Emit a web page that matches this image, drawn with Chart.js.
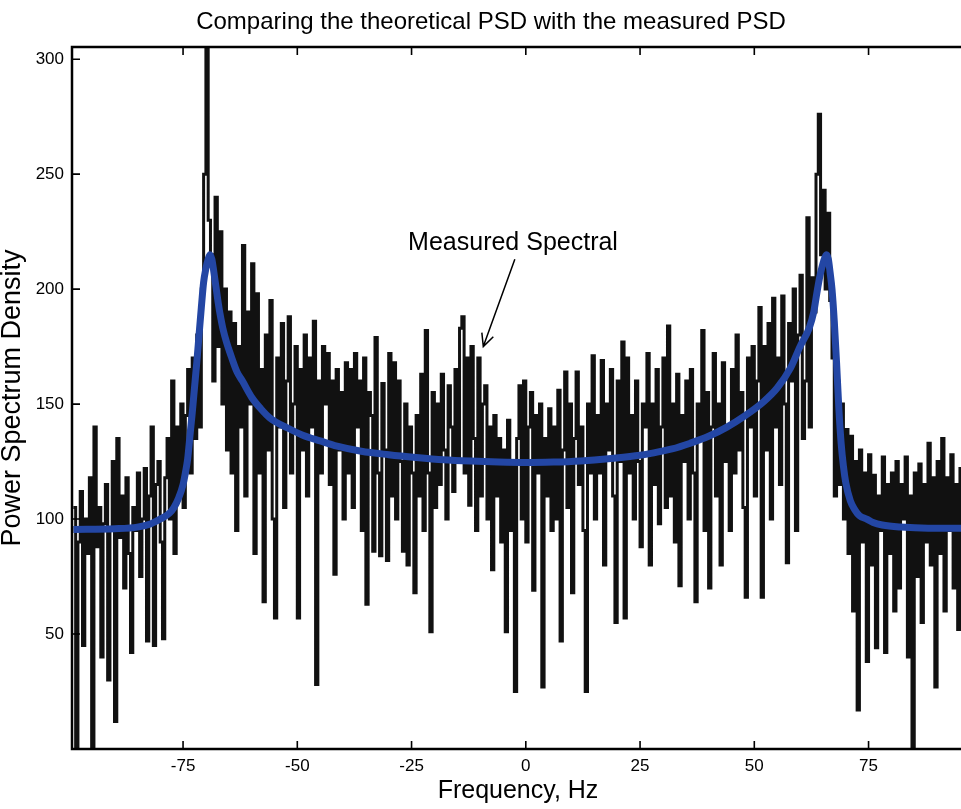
<!DOCTYPE html>
<html><head><meta charset="utf-8">
<script src="https://cdn.jsdelivr.net/npm/chart.js@4.4.1/dist/chart.umd.min.js"></script>
<style>
html,body{margin:0;padding:0;background:#fff;overflow:hidden;width:961px;height:809px;}
#wrap{position:absolute;left:-20px;top:0;width:1022px;height:809px;}
</style></head><body>
<div id="wrap"><canvas id="c"></canvas></div>
<script>
const chartTitle = 'Comparing the theoretical PSD with the measured PSD';
const xTitle = 'Frequency, Hz';
const yTitle = 'Power Spectrum Density';
const annotationText = 'Measured Spectral';
const xTickValues = [-75, -50, -25, 0, 25, 50, 75];
const yTickValues = [50, 100, 150, 200, 250, 300];

// measured spectrum: bins every 0.5 Hz starting at -99 Hz
const measuredStartHz = -99;
const measuredStepHz = 0.5;
const measuredPSD = [
  105, 0, 90, 112, 45, 100, 85, 118, 0, 140,
  88, 105, 40, 98, 115, 30, 95, 125, 12, 135,
  92, 110, 70, 118, 85, 42, 105, 95, 120, 75,
  100, 122, 47, 110, 140, 45, 115, 125, 90, 48,
  118, 135, 100, 160, 85, 140, 110, 150, 105, 145,
  165, 120, 170, 135, 180, 140, 200, 250, 305, 230,
  215, 160, 240, 175, 225, 150, 200, 130, 190, 120,
  185, 95, 175, 140, 219, 110, 190, 150, 211, 85,
  198, 120, 165, 64, 180, 130, 195, 100, 57, 170,
  140, 185, 105, 160, 188, 120, 150, 175, 57, 165,
  130, 180, 110, 170, 140, 186, 28, 160, 120, 175,
  150, 172, 115, 160, 76, 165, 130, 155, 100, 168,
  120, 165, 105, 172, 140, 160, 95, 170, 63, 155,
  145, 86, 179, 120, 84, 159, 130, 82, 172, 110,
  168, 100, 160, 125, 86, 150, 80, 140, 120, 68,
  145, 110, 163, 95, 182, 120, 51, 155, 105, 150,
  115, 163, 130, 100, 158, 140, 112, 165, 125, 183,
  188, 120, 170, 106, 175, 135, 95, 170, 110, 150,
  158, 100, 140, 78, 145, 110, 135, 90, 130, 51,
  143, 95, 125, 25, 135, 158, 100, 160, 90, 140,
  155, 69, 145, 120, 150, 27, 135, 110, 148, 95,
  140, 100, 156, 47, 130, 164, 105, 150, 68, 135,
  164, 115, 140, 95, 25, 150, 120, 171, 100, 145,
  120, 169, 80, 150, 130, 165, 110, 55, 160, 125,
  177, 57, 170, 120, 145, 100, 160, 125, 88, 150,
  140, 172, 80, 150, 115, 165, 98, 140, 170, 105,
  184, 110, 150, 90, 163, 71, 145, 125, 160, 100,
  165, 120, 64, 150, 135, 182, 95, 155, 70, 140,
  172, 110, 150, 80, 168, 125, 140, 95, 165, 120,
  180, 130, 155, 105, 66, 170, 140, 175, 110, 160,
  192, 66, 175, 130, 185, 100, 196, 140, 170, 115,
  197, 150, 81, 185, 160, 200, 95, 180, 206, 135,
  160, 231, 140, 205, 190, 250, 276, 215, 243, 200,
  233, 195, 170, 110, 160, 115, 150, 100, 139, 85,
  136, 60, 125, 17, 130, 90, 120, 38, 128, 80,
  119, 44, 110, 95, 127, 42, 115, 85, 120, 60,
  125, 70, 115, 100, 127, 40, 110, 0, 120, 75,
  124, 55, 115, 90, 133, 80, 118, 27, 125, 85,
  135, 60, 118, 95, 128, 70, 115, 52, 122, 100
];

// theoretical PSD curve
const theoryFreq = [-99, -90, -85, -82, -80, -78, -77, -76, -75, -74.5, -74, -73.5, -73, -72.5, -72, -71.5, -71, -70.5, -70, -69.5, -69.1, -68.7, -68.3, -67.8, -67.3, -66.8, -66.3, -65.5, -64.5, -63.2, -62, -60, -58, -56, -52, -48.8, -45, -41.3, -36, -30, -24, -18, -12, -6, 0, 6, 12, 18, 24, 28, 32, 36, 40, 44, 48, 52, 55, 58, 60, 62, 63, 63.5, 64, 64.5, 65, 65.5, 65.8, 66.2, 66.6, 67, 67.5, 68, 68.5, 69, 69.5, 70, 71, 72, 73, 74.6, 76, 78, 82, 88, 95.5];
const theoryPSD = [95.5, 95.8, 96.5, 98, 100, 102.5, 105, 109, 115, 120, 126, 136, 146, 157, 168, 180, 192, 203, 209, 213, 215, 213, 208, 201, 194, 188, 183, 177, 171, 164, 160, 153, 148, 144, 139.5, 136.5, 134, 131.7, 129.5, 128, 126.8, 125.8, 125.2, 124.8, 124.6, 124.8, 125.3, 126.2, 127.5, 128.8, 130.5, 133, 136, 140, 145, 151, 157, 166, 175, 183, 190, 196, 202, 207, 211, 214, 215, 213, 207, 200, 186, 168, 148, 133, 123, 116, 108, 104, 101.5, 100, 98.5, 97.4, 96.5, 96, 96];

const annotationPos = { textHz: -2.8, textPSD: 220, fromHz: -2.4, fromPSD: 213, toHz: -9.3, toPSD: 175 };

const xMin = -99.3, xMax = 104.2, yMin = 0, yMax = 305.3;

const FONT = "'Liberation Sans', Arial, sans-serif";
Chart.defaults.color = '#000';
Chart.defaults.font.family = FONT;

const framePlugin = {
  id: 'frame',
  afterDatasetsDraw(chart) {
    const { ctx, chartArea: a, scales: { x, y } } = chart;
    ctx.save();
    ctx.strokeStyle = '#000';
    ctx.lineWidth = 2.5;
    ctx.strokeRect(a.left, a.top, a.right - a.left, a.bottom - a.top);
    ctx.lineWidth = 1.6;
    ctx.beginPath();
    xTickValues.forEach(v => {
      const px = x.getPixelForValue(v);
      ctx.moveTo(px, a.bottom); ctx.lineTo(px, a.bottom - 8);
      ctx.moveTo(px, a.top); ctx.lineTo(px, a.top + 8);
    });
    yTickValues.forEach(v => {
      const py = y.getPixelForValue(v);
      ctx.moveTo(a.left, py); ctx.lineTo(a.left + 8, py);
      ctx.moveTo(a.right, py); ctx.lineTo(a.right - 8, py);
    });
    ctx.stroke();

    // annotation
    const tx = x.getPixelForValue(annotationPos.textHz), ty = y.getPixelForValue(annotationPos.textPSD);
    ctx.fillStyle = '#000';
    ctx.font = "25px " + FONT;
    ctx.textAlign = 'center';
    ctx.textBaseline = 'middle';
    ctx.fillText(annotationText, tx, ty);
    const x1 = x.getPixelForValue(annotationPos.fromHz), y1 = y.getPixelForValue(annotationPos.fromPSD);
    const x2 = x.getPixelForValue(annotationPos.toHz), y2 = y.getPixelForValue(annotationPos.toPSD);
    ctx.lineWidth = 1.5;
    ctx.beginPath();
    ctx.moveTo(x1, y1); ctx.lineTo(x2, y2);
    const ang = Math.atan2(y1 - y2, x1 - x2);
    const L = 14, spread = 0.45;
    ctx.moveTo(x2 + L * Math.cos(ang - spread), y2 + L * Math.sin(ang - spread));
    ctx.lineTo(x2, y2);
    ctx.lineTo(x2 + L * Math.cos(ang + spread), y2 + L * Math.sin(ang + spread));
    ctx.stroke();

    // x-axis title (centred on the visible part of the figure)
    ctx.font = "25px " + FONT;
    ctx.textAlign = 'center';
    ctx.textBaseline = 'middle';
    ctx.fillText(xTitle, a.left + 446, a.bottom + 42);
    ctx.restore();
  }
};

new Chart(document.getElementById('c'), {
  type: 'line',
  data: {
    datasets: [
      {
        label: 'Theoretical PSD',
        data: theoryFreq.map((f, i) => ({ x: f, y: theoryPSD[i] })),
        borderColor: '#2346a4',
        borderWidth: 7,
        pointRadius: 0,
        cubicInterpolationMode: 'monotone',
        fill: false
      },
      {
        label: 'Measured PSD',
        data: measuredPSD.map((v, i) => ({ x: measuredStartHz + i * measuredStepHz, y: v })),
        borderColor: '#111',
        borderWidth: 3,
        pointRadius: 0,
        stepped: true,
        fill: false
      }
    ]
  },
  options: {
    responsive: true,
    maintainAspectRatio: false,
    animation: false,
    devicePixelRatio: 1,
    layout: { padding: 0 },
    plugins: {
      legend: { display: false },
      tooltip: { enabled: false },
      title: {
        display: true,
        text: chartTitle,
        font: { size: 24, weight: 'normal', family: FONT },
        color: '#000',
        padding: { top: 7.6, bottom: 10.6 }
      }
    },
    scales: {
      x: {
        type: 'linear',
        min: xMin, max: xMax,
        afterBuildTicks: s => { s.ticks = xTickValues.map(v => ({ value: v })); },
        afterFit: s => { s.height = 60; },
        grid: { display: false, drawTicks: false },
        border: { display: false },
        ticks: { font: { size: 17 }, color: '#000', padding: 7, maxRotation: 0, autoSkip: false },
        title: { display: false }
      },
      y: {
        type: 'linear',
        min: yMin, max: yMax,
        afterBuildTicks: s => { s.ticks = yTickValues.map(v => ({ value: v })); },
        afterFit: s => { s.width = 92; },
        grid: { display: false, drawTicks: false },
        border: { display: false },
        ticks: { font: { size: 17 }, color: '#000', padding: 8 },
        title: { display: true, text: yTitle, font: { size: 27 }, color: '#000', padding: { top: 16.5, bottom: 0 } }
      }
    }
  },
  plugins: [framePlugin]
});
</script>
</body></html>
